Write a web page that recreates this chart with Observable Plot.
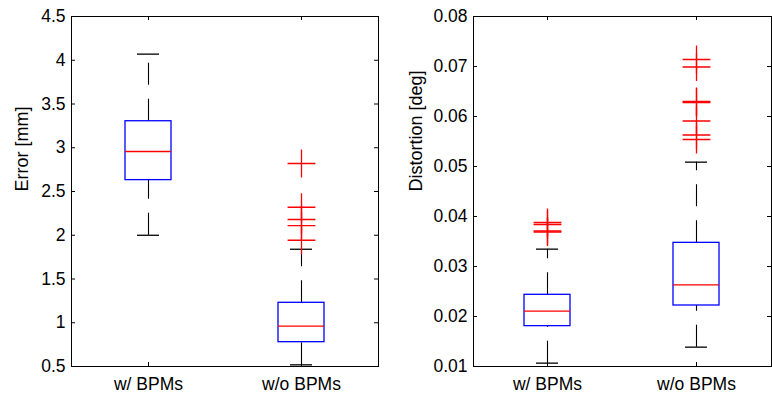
<!DOCTYPE html>
<html>
<head>
<meta charset="utf-8">
<script src="https://cdn.jsdelivr.net/npm/d3@7"></script>
<script src="https://cdn.jsdelivr.net/npm/@observablehq/plot@0.6"></script>
<style>
  html, body { margin: 0; padding: 0; background: #fff; }
  #wrap { position: relative; width: 772px; height: 394px; }
  #left { position: absolute; left: 0; top: 0; }
  #right { position: absolute; left: 390px; top: 0; }
</style>
</head>
<body>
<div id="wrap"><div id="left"></div><div id="right"></div></div>
<script>
const categories = ["w/ BPMs", "w/o BPMs"];

// Left panel: Error [mm]
const errQ1 = [2.63, 0.778];
const errMedian = [2.957, 0.961];
const errQ3 = [3.303, 1.228];
const errLow = [2.0, 0.519];
const errHigh = [4.07, 1.84];
const errOutlierCat = ["w/o BPMs", "w/o BPMs", "w/o BPMs", "w/o BPMs", "w/o BPMs"];
const errOutlierVal = [2.82, 2.32, 2.18, 2.11, 1.943];
const errTicks = [0.5, 1, 1.5, 2, 2.5, 3, 3.5, 4, 4.5];

// Right panel: Distortion [deg]
const disQ1 = [0.01807, 0.0222];
const disMedian = [0.02107, 0.02633];
const disQ3 = [0.02434, 0.03473];
const disLow = [0.01067, 0.01387];
const disHigh = [0.03347, 0.05087];
const disOutlierCat = ["w/ BPMs", "w/ BPMs", "w/ BPMs", "w/ BPMs",
  "w/o BPMs", "w/o BPMs", "w/o BPMs", "w/o BPMs", "w/o BPMs", "w/o BPMs", "w/o BPMs"];
const disOutlierVal = [0.0388, 0.0384, 0.0371, 0.0369,
  0.0714, 0.0699, 0.0630, 0.0628, 0.0591, 0.0563, 0.0554];
const disTicks = [0.01, 0.02, 0.03, 0.04, 0.05, 0.06, 0.07, 0.08];

const FONT = "'Liberation Sans', Arial, Helvetica, sans-serif";
const TICK_FONT = 17.5;
const LABEL_FONT = 18;

function panel({width, marginLeft, marginRight, yDomain, ticks, label, labelDx,
                q1, med, q3, lo, hi, outCat, outVal, paddingInner}) {
  const height = 394, marginTop = 16, marginBottom = 28;
  const W = width - marginLeft - marginRight;
  const H = height - marginTop - marginBottom;
  const boxes = categories.map((c, i) => ({c, q1: q1[i], med: med[i], q3: q3[i], lo: lo[i], hi: hi[i]}));
  const outliers = outCat.map((c, i) => ({c, v: outVal[i]}));
  const tl = 4;
  return Plot.plot({
    width, height, marginLeft, marginRight, marginTop, marginBottom,
    style: {fontFamily: FONT, fontSize: TICK_FONT + "px", color: "black", background: "white"},
    x: {type: "band", domain: categories, paddingInner, paddingOuter: paddingInner / 2, label: null},
    y: {domain: yDomain, label: null},
    marks: [
      // whiskers (drawn bottom-to-top so the dash pattern starts at the lower end)
      Plot.ruleX(boxes, {x: "c", y1: "lo", y2: "q1", stroke: "black", strokeWidth: 1.1, strokeDasharray: "22,14"}),
      Plot.ruleX(boxes, {x: "c", y1: "q3", y2: "hi", stroke: "black", strokeWidth: 1.1, strokeDasharray: "22,14"}),
      // whisker caps
      Plot.tickY(boxes, {x: "c", y: "lo", stroke: "black", strokeWidth: 1.3, insetLeft: 12, insetRight: 12}),
      Plot.tickY(boxes, {x: "c", y: "hi", stroke: "black", strokeWidth: 1.3, insetLeft: 12, insetRight: 12}),
      // boxes
      Plot.barY(boxes, {x: "c", y1: "q1", y2: "q3", fill: "none", stroke: "#0000ff", strokeWidth: 1.3}),
      // medians
      Plot.tickY(boxes, {x: "c", y: "med", stroke: "#ff0000", strokeWidth: 1.3}),
      // outliers
      Plot.dot(outliers, {x: "c", y: "v", symbol: "plus", r: 9, stroke: "#ff0000", strokeWidth: 1.3}),
      // frame
      Plot.frame({stroke: "black", strokeWidth: 1}),
      // inward ticks on left and right
      Plot.tickY(ticks, {y: d => d, insetRight: W - tl, stroke: "black"}),
      Plot.tickY(ticks, {y: d => d, insetLeft: W - tl, stroke: "black"}),
      // inward ticks at categories on bottom and top
      Plot.tickX(categories, {x: d => d, insetTop: H - tl, stroke: "black"}),
      Plot.tickX(categories, {x: d => d, insetBottom: H - tl, stroke: "black"}),
      Plot.axisY({ticks, tickSize: 0, tickPadding: 6, tickFormat: d => String(d), label: null, fill: "black", fontSize: TICK_FONT}),
      Plot.axisX({tickSize: 0, tickPadding: 11, label: null, fill: "black", fontSize: TICK_FONT}),
      Plot.text([label], {text: d => d, frameAnchor: "left", rotate: -90, dx: labelDx, lineAnchor: "middle", fill: "black", fontSize: LABEL_FONT})
    ]
  });
}

document.getElementById("left").append(panel({
  width: 390, marginLeft: 71, marginRight: 12, yDomain: [0.5, 4.5], ticks: errTicks,
  label: "Error [mm]", labelDx: -49,
  q1: errQ1, med: errMedian, q3: errQ3, lo: errLow, hi: errHigh,
  outCat: errOutlierCat, outVal: errOutlierVal, paddingInner: 0.70
}));

document.getElementById("right").append(panel({
  width: 382, marginLeft: 83, marginRight: 1, yDomain: [0.01, 0.08], ticks: disTicks,
  label: "Distortion [deg]", labelDx: -57.5,
  q1: disQ1, med: disMedian, q3: disQ3, lo: disLow, hi: disHigh,
  outCat: disOutlierCat, outVal: disOutlierVal, paddingInner: 0.691
}));
</script>
</body>
</html>
